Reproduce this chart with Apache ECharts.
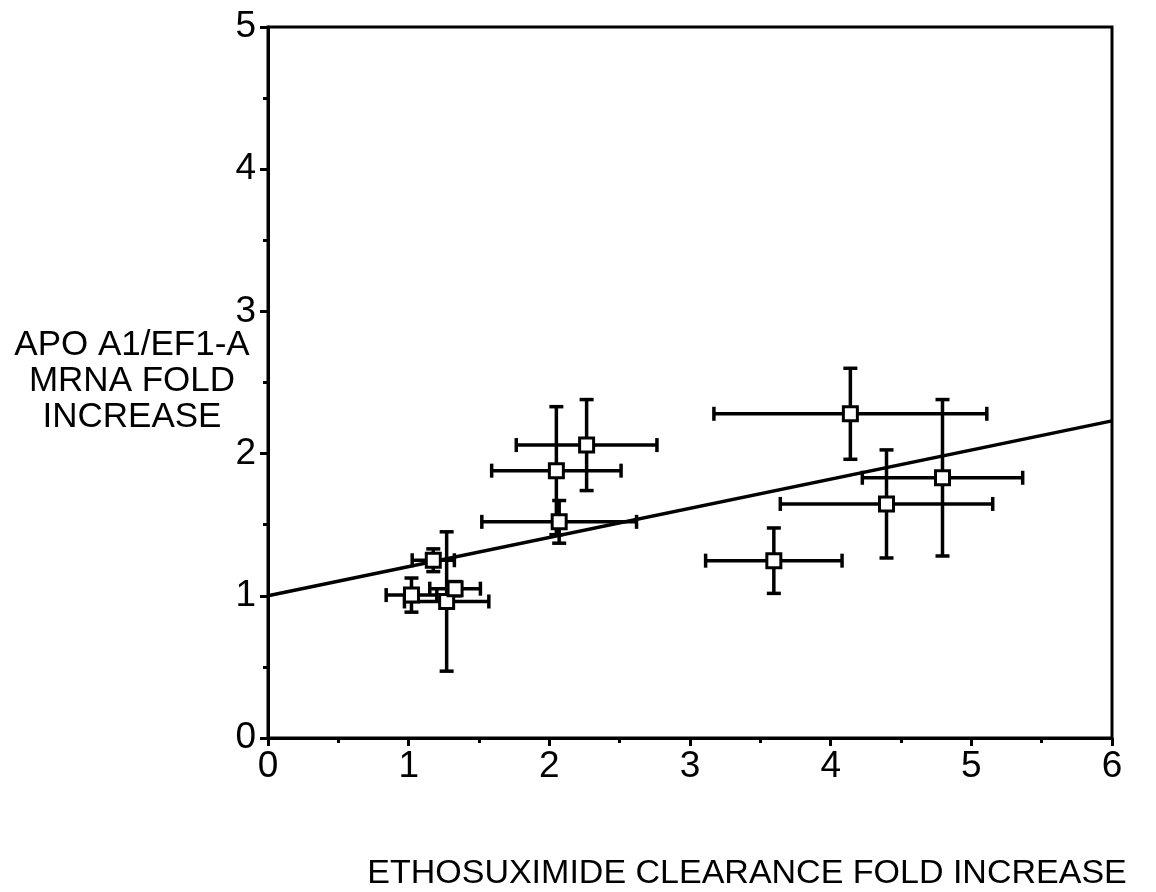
<!DOCTYPE html>
<html>
<head>
<meta charset="utf-8">
<script src="https://cdn.jsdelivr.net/npm/echarts@6/dist/echarts.min.js"></script>
<style>
  html, body { margin: 0; padding: 0; background: #fff; }
  #chart { width: 1156px; height: 892px; }
</style>
</head>
<body>
<div id="chart"></div>
<script>
// data
const xVals = [2.265, 2.05, 2.07, 1.175, 1.02, 1.27, 1.33, 4.14, 4.795, 4.397, 3.596];
const yVals = [2.06, 1.88, 1.52, 1.25, 1.005, 0.96, 1.05, 2.28, 1.83, 1.646, 1.247];
const xErr = [0.50, 0.46, 0.55, 0.15, 0.18, 0.30, 0.18, 0.97, 0.57, 0.755, 0.485];
const yErr = [0.32, 0.45, 0.15, 0.08, 0.12, 0.49, 0.05, 0.32, 0.55, 0.38, 0.23];
const fitLine = [[0, 1.0], [6, 2.23]];
const xTicks = [0, 1, 2, 3, 4, 5, 6];
const yTicks = [0, 1, 2, 3, 4, 5];

const font = 'Liberation Sans, Arial, sans-serif';

const points = xVals.map((x, i) => [x, yVals[i]]);
const errData = xVals.map((x, i) => [x, yVals[i], xErr[i], yErr[i]]);

const chart = echarts.init(document.getElementById('chart'), null, { renderer: 'canvas' });

// error bars with caps, positioned through the axis scales
function renderErr(params, api) {
	const x = api.value(0), y = api.value(1);
	const dx = api.value(2), dy = api.value(3);
	const l = api.coord([x - dx, y]);
	const r = api.coord([x + dx, y]);
	const t = api.coord([x, y + dy]);
	const b = api.coord([x, y - dy]);
	const cap = 7;
	const style = { stroke: '#000', lineWidth: 3.5 };
	const line = (x1, y1, x2, y2) => ({ type: 'line', shape: { x1, y1, x2, y2 }, style });
	return {
		type: 'group',
		children: [
			line(l[0], l[1], r[0], r[1]),
			line(l[0], l[1] - cap, l[0], l[1] + cap),
			line(r[0], r[1] - cap, r[0], r[1] + cap),
			line(t[0], t[1], b[0], b[1]),
			line(t[0] - cap, t[1], t[0] + cap, t[1]),
			line(b[0] - cap, b[1], b[0] + cap, b[1])
		]
	};
}

const axisCommon = {
	axisLine: { show: true, onZero: false, lineStyle: { color: '#000', width: 3 } },
	axisTick: { show: true, inside: false, length: 8, lineStyle: { color: '#000', width: 3 } },
	minorTick: { show: true, splitNumber: 2, length: 5, lineStyle: { color: '#000', width: 3 } },
	splitLine: { show: false }
};

const option = {
	animation: false,
	backgroundColor: '#fff',
	grid: {
		left: 268, right: 44, top: 27, bottom: 154,
		show: true, borderColor: '#000', borderWidth: 3
	},
	xAxis: {
		...axisCommon,
		type: 'value',
		min: xTicks[0], max: xTicks[xTicks.length - 1], interval: 1,
		axisLabel: { color: '#000', fontSize: 37, fontFamily: font, margin: 10 }
	},
	yAxis: {
		...axisCommon,
		type: 'value',
		min: yTicks[0], max: yTicks[yTicks.length - 1], interval: 1,
		axisLabel: { color: '#000', fontSize: 37, fontFamily: font, margin: 12 }
	},
	graphic: [
		{
			type: 'text', x: 747, y: 874,
			style: {
				text: 'ETHOSUXIMIDE CLEARANCE FOLD INCREASE',
				font: '34px ' + font, fill: '#000',
				textAlign: 'center', textVerticalAlign: 'middle'
			}
		},
		{
			type: 'text', x: 132, y: 381,
			style: {
				text: 'APO A1/EF1-A\nMRNA FOLD\nINCREASE',
				font: '35px ' + font, fill: '#000', lineHeight: 36,
				textAlign: 'center', textVerticalAlign: 'middle'
			}
		}
	],
	series: [
		{
			type: 'line',
			data: fitLine,
			symbol: 'none',
			lineStyle: { color: '#000', width: 3.5 },
			z: 2
		},
		{
			type: 'custom',
			renderItem: renderErr,
			data: errData,
			encode: { x: 0, y: 1 },
			z: 3
		},
		{
			type: 'scatter',
			data: points,
			symbol: 'rect',
			symbolSize: 14,
			itemStyle: { color: '#fff', borderColor: '#000', borderWidth: 3, opacity: 1 },
			z: 4
		}
	]
};

chart.setOption(option);
</script>
</body>
</html>
